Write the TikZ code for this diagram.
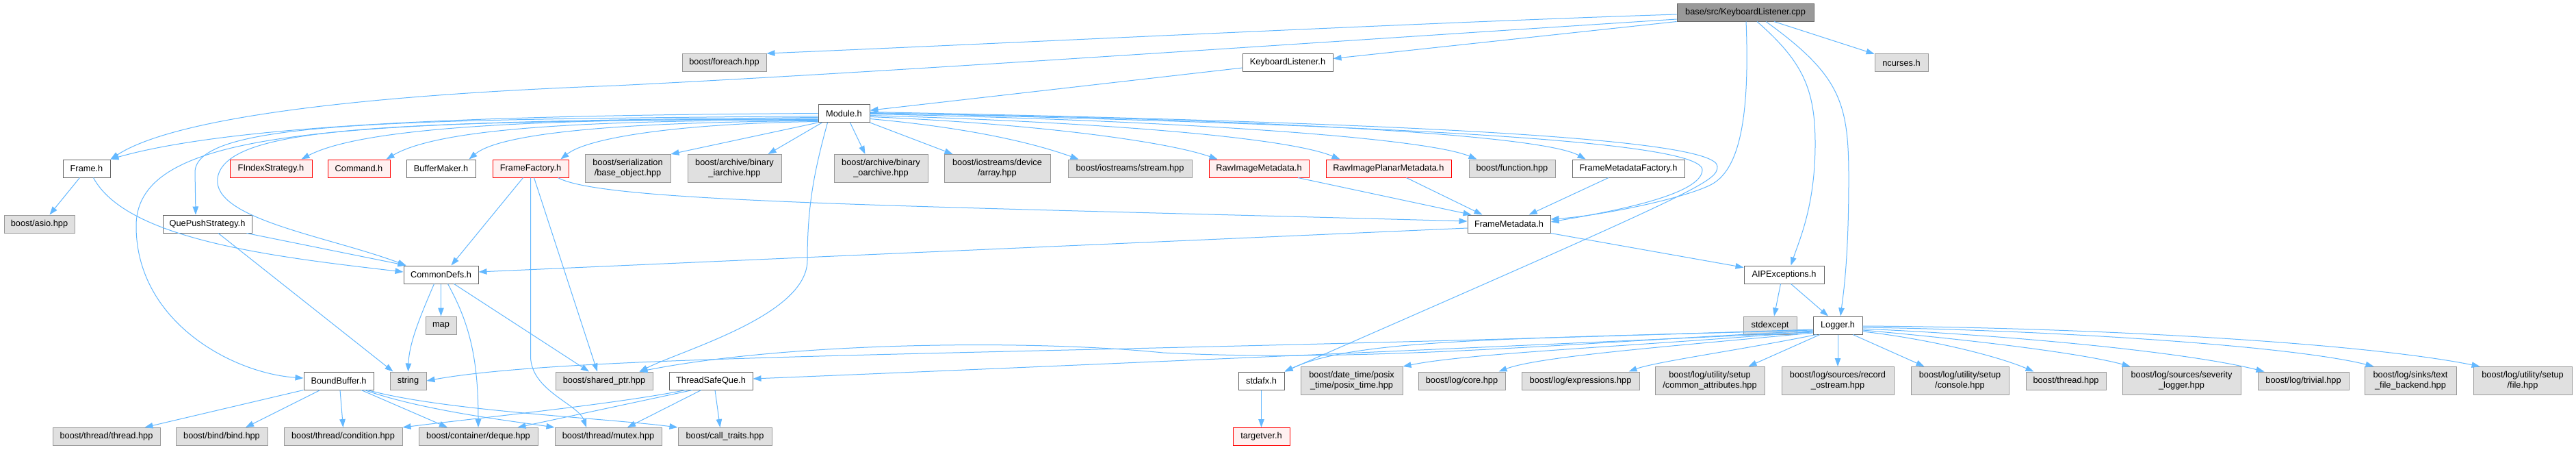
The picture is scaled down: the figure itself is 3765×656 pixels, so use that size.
\documentclass[tikz,border=0pt]{standalone}
\usepackage{fontspec}
\setmainfont{Liberation Sans}
\usetikzlibrary{arrows.meta}
\definecolor{edgec}{HTML}{63B8FF}
\definecolor{grayfill}{HTML}{E0E0E0}
\definecolor{graydraw}{HTML}{999999}
\definecolor{whitedraw}{HTML}{666666}
\definecolor{redfill}{HTML}{FFF0F0}
\definecolor{reddraw}{HTML}{FF0000}
\definecolor{rootfill}{HTML}{999999}
\newcommand{\nfont}{\fontsize{12.8}{15}\selectfont}
\tikzset{
 nb/.style={rectangle, inner sep=0pt, minimum height=26pt, font=\nfont, align=center, line width=1pt},
 wn/.style={nb, draw=whitedraw, fill=white},
 gn/.style={nb, draw=graydraw, fill=grayfill},
 rn/.style={nb, draw=reddraw, fill=redfill},
 rootn/.style={nb, draw=whitedraw, fill=rootfill},
 tall/.style={minimum height=41pt},
 edg/.style={draw=edgec, line width=1pt, -{Triangle[length=12pt,width=8.5pt]}},
}
\begin{document}
\begin{tikzpicture}[x=1pt,y=-1pt]
\fill[white] (0,0) rectangle (3765,656);
\useasboundingbox (0,0) rectangle (3765,656);
% row 0-2
\node[rootn, minimum width=200] (R) at (2551,18) {base/src/KeyboardListener.cpp};
\node[gn, minimum width=123] (F1) at (1058.5,91.5) {boost/foreach.hpp};
\node[wn, minimum width=132] (KL) at (1882,91.5) {KeyboardListener.h};
\node[gn, minimum width=78] (NC) at (2779,91.5) {ncurses.h};
\node[wn, minimum width=75] (M) at (1233.5,165.5) {Module.h};
% row 3
\node[wn, minimum width=69] (Fr) at (126.5,246) {Frame.h};
\node[rn, minimum width=120] (FI) at (396,246) {FIndexStrategy.h};
\node[rn, minimum width=91] (CM) at (524.5,246) {Command.h};
\node[wn, minimum width=101] (BM) at (644.5,246) {BufferMaker.h};
\node[rn, minimum width=111] (FF) at (775.5,246) {FrameFactory.h};
\node[gn, tall, minimum width=125] (BO) at (917.5,246) {boost/serialization\\/base\_object.hpp};
\node[gn, tall, minimum width=137] (BI) at (1073.5,246) {boost/archive/binary\\\_iarchive.hpp};
\node[gn, tall, minimum width=137] (BOA) at (1287.5,246) {boost/archive/binary\\\_oarchive.hpp};
\node[gn, tall, minimum width=155] (DA) at (1457.5,246) {boost/iostreams/device\\/array.hpp};
\node[gn, minimum width=181] (ST) at (1651.5,246) {boost/iostreams/stream.hpp};
\node[rn, minimum width=146] (RM) at (1840,246) {RawImageMetadata.h};
\node[rn, minimum width=183] (RP) at (2029.5,246) {RawImagePlanarMetadata.h};
\node[gn, minimum width=126] (FN) at (2210,246) {boost/function.hpp};
\node[wn, minimum width=164] (FMF) at (2380,246) {FrameMetadataFactory.h};
% row 4-6
\node[gn, minimum width=103] (AS) at (57.5,327) {boost/asio.hpp};
\node[wn, minimum width=130] (QP) at (303,327) {QuePushStrategy.h};
\node[wn, minimum width=121] (FM) at (2205.5,327) {FrameMetadata.h};
\node[wn, minimum width=109] (CD) at (644.5,401) {CommonDefs.h};
\node[wn, minimum width=117] (AE) at (2607.5,401) {AIPExceptions.h};
\node[gn, minimum width=45] (MP) at (644.5,475) {map};
\node[gn, minimum width=78] (SE) at (2587,475) {stdexcept};
\node[wn, minimum width=72] (LG) at (2686,475) {Logger.h};
% row 7
\node[wn, minimum width=102] (BB) at (495,556) {BoundBuffer.h};
\node[gn, minimum width=53] (STR) at (596.5,556) {string};
\node[gn, minimum width=142] (SP) at (883,556) {boost/shared\_ptr.hpp};
\node[wn, minimum width=122] (TQ) at (1039,556) {ThreadSafeQue.h};
\node[wn, minimum width=67] (SX) at (1843.5,556) {stdafx.h};
\node[gn, tall, minimum width=149] (PT) at (1975.5,556) {boost/date\_time/posix\\\_time/posix\_time.hpp};
\node[gn, minimum width=127] (CO) at (2136.5,556) {boost/log/core.hpp};
\node[gn, minimum width=172] (EX) at (2310,556) {boost/log/expressions.hpp};
\node[gn, tall, minimum width=160] (CA) at (2499,556) {boost/log/utility/setup\\/common\_attributes.hpp};
\node[gn, tall, minimum width=164] (RO) at (2686,556) {boost/log/sources/record\\\_ostream.hpp};
\node[gn, tall, minimum width=143] (CS) at (2864.5,556) {boost/log/utility/setup\\/console.hpp};
\node[gn, minimum width=117] (TH) at (3019.5,556) {boost/thread.hpp};
\node[gn, tall, minimum width=173] (SL) at (3188.5,556) {boost/log/sources/severity\\\_logger.hpp};
\node[gn, minimum width=133] (TV) at (3366.5,556) {boost/log/trivial.hpp};
\node[gn, tall, minimum width=134] (TF) at (3523,556) {boost/log/sinks/text\\\_file\_backend.hpp};
\node[gn, tall, minimum width=144] (FL) at (3687,556) {boost/log/utility/setup\\/file.hpp};
% row 8
\node[gn, minimum width=157] (TT) at (155.5,637.5) {boost/thread/thread.hpp};
\node[gn, minimum width=134] (BD) at (324,637.5) {boost/bind/bind.hpp};
\node[gn, minimum width=173] (CN) at (501.5,637.5) {boost/thread/condition.hpp};
\node[gn, minimum width=174] (DQ) at (699,637.5) {boost/container/deque.hpp};
\node[gn, minimum width=156] (MX) at (889,637.5) {boost/thread/mutex.hpp};
\node[gn, minimum width=137] (CT) at (1059.5,637.5) {boost/call\_traits.hpp};
\node[rn, minimum width=83] (TG) at (1843.5,637.5) {targetver.h};

% ---- edges from root
\draw[edg] ([yshift=-3]R.west) .. controls (2100,32) and (1500,62) .. (F1.north east);
\draw[edg] (R.south west) -- ([yshift=6]KL.east);
\draw[edg] ([yshift=-10]R.west) .. controls (1800,70) and (1300,105) .. (900,125) .. controls (500,140) and (250,175) .. (Fr.north east);
\draw[edg] ([xshift=1]R.south) .. controls (2558,180) and (2540,250) .. (2500,270) .. controls (2460,290) and (2340,315) .. ([yshift=7]FM.east);
\draw[edg] ([xshift=17]R.south) .. controls (2635,90) and (2653,130) .. (2653,210) .. controls (2653,300) and (2630,350) .. ([xshift=10]AE.north);
\draw[edg] ([xshift=30]R.south) .. controls (2690,110) and (2702,150) .. (2702,260) .. controls (2702,380) and (2694,430) .. ([xshift=4]LG.north);
\draw[edg] (R) -- (NC);
\draw[edg] (KL) -- (M);

% ---- Module.h
\draw[edg] (M.west) .. controls (800,168) and (360,176) .. (Fr.north east);
\draw[edg] ([yshift=-4]M.west) .. controls (600,175) and (290,175) .. (285,250) -- ([xshift=-17]QP.north);
\draw[edg] ([yshift=-6]M.west) .. controls (500,178) and (199,185) .. (199,330) .. controls (199,470) and (340,545) .. ([yshift=4]BB.west);
\draw[edg] ([yshift=-8]M.west) .. controls (600,178) and (330,180) .. (318,260) .. controls (310,320) and (480,345) .. ([xshift=4]CD.north west);
\draw[edg] ([yshift=-9]M.west) .. controls (800,172) and (530,185) .. ([xshift=-16]FI.north east);
\draw[edg] ([yshift=-10]M.west) .. controls (850,175) and (640,188) .. ([xshift=-6]CM.north east);
\draw[edg] ([yshift=-11]M.west) .. controls (900,178) and (730,195) .. ([xshift=-10]BM.north east);
\draw[edg] ([yshift=-12]M.west) .. controls (1000,180) and (860,200) .. ([xshift=-12]FF.north east);
\draw[edg] (M.south west) -- (BO.north east);
\draw[edg] ([xshift=6]M.south west) -- ([xshift=-20]BI.north east);
\draw[edg] ([xshift=47]M.south west) -- ([xshift=-23]BOA.north);
\draw[edg] ([xshift=14]M.south west) .. controls (1190,250) and (1180,300) .. (1180,380) .. controls (1180,460) and (1000,510) .. ([xshift=-20]SP.north east);
\draw[edg] (M.south east) -- ([xshift=-65]DA.north);
\draw[edg] ([yshift=-8]M.east) .. controls (1400,185) and (1500,205) .. ([xshift=16]ST.north west);
\draw[edg] ([yshift=-5]M.east) .. controls (1500,180) and (1700,205) .. ([xshift=13]RM.north west);
\draw[edg] ([yshift=-3]M.east) .. controls (1600,178) and (1880,200) .. ([xshift=21]RP.north west);
\draw[edg] ([yshift=-1]M.east) .. controls (1700,175) and (2080,200) .. ([xshift=12]FN.north west);
\draw[edg] (M.east) .. controls (1800,172) and (2250,195) .. ([xshift=20]FMF.north west);
\draw[edg] ([yshift=1]M.east) .. controls (1900,180) and (2488,200) .. (2488,248) .. controls (2488,285) and (2350,310) .. ([yshift=3]FM.east);
\draw[edg] ([yshift=2]M.east) .. controls (2000,178) and (2510,200) .. (2510,243) .. controls (2510,265) and (2490,275) .. (SX.north east);

% ---- Frame.h, QuePushStrategy.h, FrameFactory.h
\draw[edg] ([xshift=-10]Fr.south) -- ([xshift=15]AS.north);
\draw[edg] ([xshift=10]Fr.south) .. controls (185,350) and (400,375) .. ([yshift=4]CD.west);
\draw[edg] ([xshift=-8]QP.south east) -- ([xshift=4]CD.north west);
\draw[edg] ([xshift=16]QP.south) -- ([xshift=5]STR.north west);
\draw[edg] ([xshift=-11]FF.south) -- ([xshift=15]CD.north);
\draw[edg] (FF.south) -- (775.5,520) .. controls (775.5,570) and (845,590) .. ([xshift=-32]MX.north);
\draw[edg] ([xshift=5]FF.south) -- ([xshift=-10]SP.north);
\draw[edg] ([xshift=-16]FF.south east) .. controls (880,295) and (1300,300) .. ([yshift=4]FM.west);

% ---- CommonDefs.h
\draw[edg] ([xshift=-10]CD.south) .. controls (615,460) and (598,500) .. (STR.north);
\draw[edg] (CD) -- (MP);
\draw[edg] ([xshift=10]CD.south) .. controls (685,470) and (699,520) .. (DQ.north);
\draw[edg] ([xshift=19]CD.south) -- ([xshift=-22]SP.north);

% ---- FrameMetadata and friends
\draw[edg] ([yshift=-6]FM.west) -- ([yshift=4]CD.east);
\draw[edg] (FM.south east) -- ([yshift=-3]AE.north west);
\draw[edg] (FMF) -- (FM);
\draw[edg] ([xshift=57]RM.south) -- ([xshift=6]FM.north west);
\draw[edg] ([xshift=26]RP.south) -- ([xshift=22]FM.north west);
\draw[edg] ([xshift=-5]AE.south) -- ([xshift=6]SE.north);
\draw[edg] ([xshift=10]AE.south) -- ([xshift=-14]LG.north);

% ---- Logger.h
\draw[edg] ([yshift=-6]LG.west) .. controls (1500,520) and (850,515) .. (STR.east);
\draw[edg] ([yshift=-8]LG.west) .. controls (2300,500) and (2000,530) .. (1700,515) .. controls (1500,495) and (1150,500) .. ([xshift=-20]SP.north east);
\draw[edg] ([yshift=-10]LG.west) .. controls (2000,515) and (1300,545) .. ([yshift=3]TQ.east);
\draw[edg] ([yshift=-7]LG.west) .. controls (2200,495) and (1980,495) .. (SX.north east);
\draw[edg] ([yshift=-9]LG.west) .. controls (2400,505) and (2150,515) .. (PT.north east);
\draw[edg] ([yshift=-11]LG.west) .. controls (2450,505) and (2250,520) .. ([xshift=-10]CO.north east);
\draw[edg] ([xshift=-31]LG.south) .. controls (2550,510) and (2420,528) .. ([xshift=-16]EX.north east);
\draw[edg] ([xshift=-26]LG.south) -- ([xshift=-24]CA.north east);
\draw[edg] (LG.south) -- (RO.north);
\draw[edg] ([xshift=22]LG.south) -- ([xshift=-52]CS.north);
\draw[edg] ([yshift=-9]LG.east) .. controls (2820,495) and (2920,520) .. ([xshift=12]TH.north west);
\draw[edg] ([yshift=-7]LG.east) .. controls (2870,495) and (3040,515) .. ([xshift=12]SL.north west);
\draw[edg] ([yshift=-5]LG.east) .. controls (2950,490) and (3200,515) .. ([xshift=10]TV.north west);
\draw[edg] ([yshift=-3]LG.east) .. controls (3000,482) and (3350,505) .. ([xshift=14]TF.north west);
\draw[edg] ([yshift=-1]LG.east) .. controls (3050,478) and (3450,500) .. ([xshift=10]FL.north west);

% ---- BoundBuffer.h
\draw[edg] (BB.south west) -- ([xshift=-23]TT.north east);
\draw[edg] ([xshift=-27]BB.south) -- ([xshift=35]BD.north);
\draw[edg] ([xshift=2]BB.south) -- (CN.north);
\draw[edg] ([xshift=33]BB.south) -- ([xshift=-45]DQ.north);
\draw[edg] ([xshift=38]BB.south) .. controls (620,600) and (750,615) .. (MX.north west);
\draw[edg] ([xshift=42]BB.south) .. controls (650,600) and (880,610) .. (CT.north west);

% ---- ThreadSafeQue.h
\draw[edg] ([xshift=-37]TQ.south) .. controls (900,590) and (700,610) .. (CN.north east);
\draw[edg] ([xshift=-27]TQ.south) -- ([xshift=-30]DQ.north east);
\draw[edg] ([xshift=-14]TQ.south) -- ([xshift=28]MX.north);
\draw[edg] ([xshift=6]TQ.south) -- ([xshift=-7]CT.north);

% ---- stdafx.h
\draw[edg] (SX) -- (TG);
\end{tikzpicture}
\end{document}
